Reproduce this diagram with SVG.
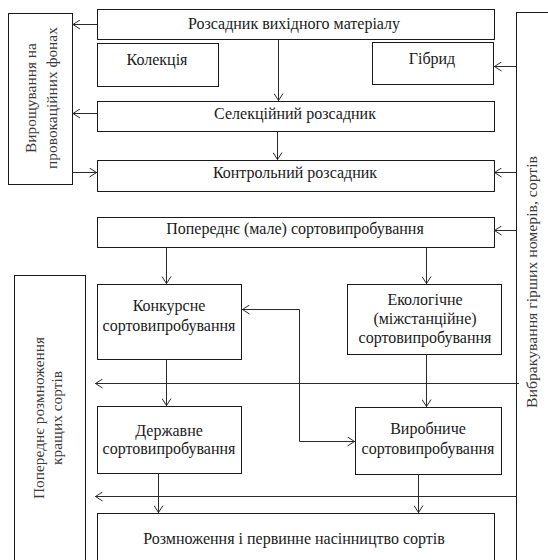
<svg xmlns="http://www.w3.org/2000/svg" width="548" height="560" viewBox="0 0 548 560">
  <style>
    .box { fill: #ffffff; stroke: #1a1a1a; stroke-width: 1; }
    .lbl { font-family: "Liberation Serif", "Times New Roman", serif; font-size: 16px; fill: #1a1a1a; text-anchor: middle; }
    .side { font-family: "Liberation Serif", "Times New Roman", serif; font-size: 15.4px; fill: #3a3a3a; text-anchor: middle; }
    .wire { fill: none; stroke: #2a2a2a; stroke-width: 1; }
  </style>
  <defs>
    <marker id="arrow" markerUnits="userSpaceOnUse" viewBox="0 0 8 10" refX="8" refY="5" markerWidth="8" markerHeight="10" orient="auto-start-reverse">
      <path d="M0.5,0.5 L7.5,5 L0.5,9.5" fill="none" stroke="#2a2a2a" stroke-width="1"/>
    </marker>
  </defs>
  <rect width="548" height="560" fill="#ffffff"/>

  <!-- side column: provocative backgrounds -->
  <g id="provocative">
    <rect class="box" x="8.5" y="13.5" width="64" height="171"/>
    <text class="side" transform="translate(36,98) rotate(-90)">Вирощування на</text>
    <text class="side" transform="translate(57,98) rotate(-90)">провокаційних фонах</text>
  </g>

  <!-- side column: culling -->
  <g id="culling">
    <rect class="box" x="516.5" y="12.5" width="50" height="560"/>
    <text class="side" transform="translate(537,282) rotate(-90)" textLength="252" lengthAdjust="spacingAndGlyphs">Вибракування гірших номерів, сортів</text>
  </g>

  <!-- side column: preliminary propagation -->
  <g id="propagation-early">
    <rect class="box" x="14.5" y="275.5" width="71" height="300"/>
    <text class="side" transform="translate(44,418) rotate(-90)">Попереднє розмноження</text>
    <text class="side" transform="translate(62,418) rotate(-90)">кращих сортів</text>
  </g>

  <g id="source-nursery">
    <rect class="box" x="97.5" y="9.5" width="397" height="30"/>
    <text class="lbl" x="294" y="29">Розсадник вихідного матеріалу</text>
  </g>
  <g id="collection">
    <rect class="box" x="97.5" y="43.5" width="121" height="43"/>
    <text class="lbl" x="157" y="65">Колекція</text>
  </g>
  <g id="hybrid">
    <rect class="box" x="372.5" y="42.5" width="121" height="42"/>
    <text class="lbl" x="432" y="64">Гібрид</text>
  </g>
  <g id="selection-nursery">
    <rect class="box" x="97.5" y="101.5" width="397" height="30"/>
    <text class="lbl" x="295" y="119">Селекційний розсадник</text>
  </g>
  <g id="control-nursery">
    <rect class="box" x="97.5" y="160.5" width="397" height="31"/>
    <text class="lbl" x="295" y="178">Контрольний розсадник</text>
  </g>
  <g id="preliminary-trial">
    <rect class="box" x="97.5" y="217.5" width="397" height="30"/>
    <text class="lbl" x="295" y="234">Попереднє (мале) сортовипробування</text>
  </g>
  <g id="competitive-trial">
    <rect class="box" x="97.5" y="284.5" width="144" height="75"/>
    <text class="lbl" x="169" y="311">Конкурсне</text>
    <text class="lbl" x="169" y="331">сортовипробування</text>
  </g>
  <g id="ecological-trial">
    <rect class="box" x="347.5" y="284.5" width="154" height="70"/>
    <text class="lbl" x="425" y="305">Екологічне</text>
    <text class="lbl" x="425" y="324">(міжстанційне)</text>
    <text class="lbl" x="425" y="343">сортовипробування</text>
  </g>
  <g id="state-trial">
    <rect class="box" x="97.5" y="406.5" width="144" height="67"/>
    <text class="lbl" x="169" y="436">Державне</text>
    <text class="lbl" x="169" y="454">сортовипробування</text>
  </g>
  <g id="production-trial">
    <rect class="box" x="355.5" y="407.5" width="146" height="67"/>
    <text class="lbl" x="428" y="434">Виробниче</text>
    <text class="lbl" x="428" y="454">сортовипробування</text>
  </g>
  <g id="seed-production">
    <rect class="box" x="97.5" y="513.5" width="397" height="60"/>
    <text class="lbl" x="294" y="544">Розмноження і первинне насінництво сортів</text>
  </g>

  <g id="connectors">
    <!-- exchange with provocative backgrounds -->
    <path class="wire" d="M97,24.5 H72.5" marker-end="url(#arrow)"/>
    <path class="wire" d="M97,113.5 H72.5" marker-end="url(#arrow)"/>
    <path class="wire" d="M72.5,172.5 H97" marker-end="url(#arrow)"/>
    <!-- main chain -->
    <path class="wire" d="M278.5,39.5 V101" marker-end="url(#arrow)"/>
    <path class="wire" d="M277.5,131.5 V160" marker-end="url(#arrow)"/>
    <path class="wire" d="M166.5,247.5 V284" marker-end="url(#arrow)"/>
    <path class="wire" d="M426.5,247.5 V284" marker-end="url(#arrow)"/>
    <path class="wire" d="M166.5,359.5 V406" marker-end="url(#arrow)"/>
    <path class="wire" d="M426.5,354.5 V407" marker-end="url(#arrow)"/>
    <path class="wire" d="M158.5,473.5 V513" marker-end="url(#arrow)"/>
    <path class="wire" d="M418.5,474.5 V513" marker-end="url(#arrow)"/>
    <!-- culling feedback -->
    <path class="wire" d="M516.5,66.5 H494" marker-end="url(#arrow)"/>
    <path class="wire" d="M516.5,172.5 H494" marker-end="url(#arrow)"/>
    <path class="wire" d="M516.5,230.5 H494" marker-end="url(#arrow)"/>
    <!-- links between competitive and production trials -->
    <path class="wire" d="M242,309.5 H299.5 V441.5 H355" marker-start="url(#arrow)" marker-end="url(#arrow)"/>
    <!-- transfers to preliminary propagation -->
    <path class="wire" d="M519,383.5 H95" marker-end="url(#arrow)"/>
    <path class="wire" d="M516.5,496.5 H95" marker-end="url(#arrow)"/>
  </g>
</svg>
